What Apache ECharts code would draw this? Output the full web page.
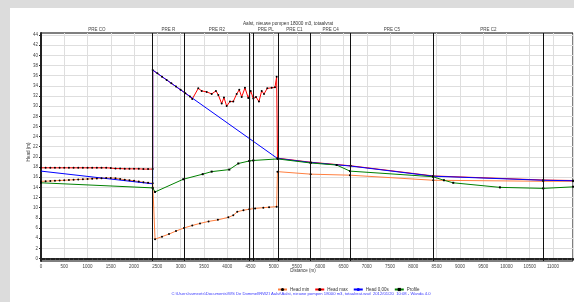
<!DOCTYPE html>
<html>
<head>
<meta charset="utf-8">
<script src="https://cdn.jsdelivr.net/npm/echarts@6/dist/echarts.min.js"></script>
<style>
html, body { margin: 0; padding: 0; background: #dcdcdc; }
#panel { position: absolute; left: 10px; top: 8px; right: 0; bottom: 0; background: #fff; }
#chart { position: absolute; left: 0; top: 0; width: 574px; height: 302px; }
</style>
</head>
<body>
<div id="panel"></div>
<div id="chart"></div>
<script>
// waarden: [afstand (m), head (m)]
var headMin = [
	[0,15.2],[100,15.22],[200,15.25],[300,15.3],[400,15.35],[500,15.4],[600,15.45],[700,15.5],
	[800,15.55],[900,15.6],[1000,15.65],[1100,15.7],[1200,15.75],[1300,15.8],[1400,15.85],[1500,15.85],
	[1600,15.8],[1700,15.65],[1800,15.5],[1900,15.4],[2000,15.3],[2100,15.15],[2200,15.0],[2300,14.9],
	[2400,14.8],[2450,3.8],[2600,4.3],[2750,4.8],[2900,5.4],[3072,6.0],[3250,6.5],[3416,6.9],
	[3600,7.3],[3800,7.6],[4024,8.1],[4131,8.5],[4217,9.2],[4350,9.5],[4475,9.7],[4600,9.85],
	[4776,10.0],[4900,10.1],[5063,10.2],[5080,17.1],[5794,16.6],[6638,16.4],[8428,15.4],[10791,15.2],
	[11430,15.2]
];
var headMax = [
	[0,17.85],[100,17.85],[200,17.85],[300,17.85],[400,17.85],[500,17.85],[600,17.85],[700,17.85],
	[800,17.85],[900,17.85],[1000,17.85],[1100,17.85],[1200,17.85],[1300,17.85],[1400,17.85],[1500,17.8],
	[1600,17.7],[1700,17.7],[1800,17.65],[1900,17.65],[2000,17.65],[2100,17.65],[2200,17.6],[2300,17.6],
	[2400,17.6],[2400,37.1],[2500,36.45],[2600,35.8],[2700,35.15],[2800,34.5],[2900,33.85],[3000,33.2],
	[3100,32.55],[3200,31.9],[3250,31.4],[3379,33.5],[3452,33.0],[3560,32.8],[3667,32.4],[3759,33.0],
	[3809,32.2],[3882,30.5],[3931,31.7],[3989,30.0],[4060,30.9],[4131,30.9],[4204,32.4],[4260,33.2],
	[4312,31.8],[4382,33.6],[4453,31.6],[4505,33.0],[4561,31.5],[4619,31.8],[4683,30.9],[4741,33.0],
	[4791,32.4],[4861,33.5],[4956,33.6],[5027,33.7],[5063,35.8],[5080,19.75],[5794,18.95],[6653,18.25],
	[8428,16.25],[10791,15.45],[11430,15.35]
];
var head0 = [
	[0,17.2],[2400,14.7],[2400,37.1],[5080,19.7],[5794,18.9],[6653,18.2],[8428,16.2],[10791,15.4],[11430,15.3]
];
var profile = [
	[0,14.9],[2400,13.9],[2450,13.1],[3057,15.6],[3474,16.6],[3667,17.1],[4045,17.5],[4239,18.7],
	[4475,19.2],[4561,19.3],[5085,19.6],[5794,18.8],[6352,18.4],[6638,17.2],[8421,16.1],[8657,15.4],
	[8857,14.9],[9860,14.0],[10791,13.8],[11430,14.1]
];
var sectionBounds = [2400, 3078, 4475, 4561, 5098, 5794, 6653, 8428, 10791];
var sectionNames = [
	[0, 2400, 'PRE CO'], [2400, 3078, 'PRE R'], [3078, 4475, 'PRE R2'], [4561, 5098, 'PRE PL'],
	[5098, 5794, 'PRE C1'], [5794, 6653, 'PRE C4'], [6653, 8428, 'PRE C5'], [8428, 10791, 'PRE C2']
];
var yTicks = [0,2,4,6,8,10,12,14,16,18,20,22,24,26,28,30,32,34,36,38,40,42,44];

var myChart = echarts.init(document.getElementById('chart'), null, {renderer: 'canvas'});

var smallText = {fontSize: 4.5, color: '#444', fontFamily: 'Arial, Liberation Sans, sans-serif'};

var option = {
	animation: false,
	grid: {
		left: 41, right: 1, top: 33, bottom: 41,
		show: true, borderColor: '#000', borderWidth: 1
	},
	legend: {
		left: 272, top: 282,
		itemWidth: 9, itemHeight: 4, itemGap: 5,
		textStyle: {fontSize: 4.5, color: '#333', padding: [0, 0, 0, -2]},
		data: ['Head min', 'Head max', 'Head 0,00s', 'Profile']
	},
	xAxis: {
		type: 'value', min: 0, max: 11430, interval: 500,
		axisLine: {lineStyle: {color: '#222', width: 2}},
		axisTick: {length: 2, lineStyle: {color: '#222'}},
		minorTick: {show: true, splitNumber: 5, length: 1.5, lineStyle: {color: '#444'}},
		axisLabel: Object.assign({margin: 3, showMaxLabel: false, formatter: function (v) { return String(v); }}, smallText),
		splitLine: {lineStyle: {color: '#dedede', width: 1}}
	},
	yAxis: {
		type: 'value', min: -0.5, max: 44.4,
		axisLine: {show: true, lineStyle: {color: '#222', width: 2}},
		axisTick: {show: true, length: 2, customValues: yTicks, lineStyle: {color: '#222'}},
		axisLabel: Object.assign({margin: 3, customValues: yTicks}, smallText),
		splitLine: {lineStyle: {color: '#dedede', width: 1}}
	},
	graphic: [
		{type: 'text', x: 288, y: 24, style: {text: 'Aalst, nieuwe pompen 18000 m3, totaalvrat', fontSize: 4.7, fill: '#333', align: 'center', verticalAlign: 'middle'}},
		{type: 'text', x: 303, y: 271, style: {text: 'Distance (m)', fontSize: 4.5, fill: '#333', align: 'center', verticalAlign: 'middle'}},
		{type: 'text', x: 29, y: 152, rotation: Math.PI / 2, style: {text: 'Head (m)', fontSize: 4.5, fill: '#333', align: 'center', verticalAlign: 'middle'}},
		{type: 'text', x: 301, y: 294, style: {text: 'C:\\Users\\ssmeets\\Documents\\WS De Dommel\\RWZI Aalst\\Aalst, nieuwe pompen 18000 m3, totaalvrat.wsd  2012/01/20  10:08 - Wanda 4.0', fontSize: 4.2, fill: '#3a3aff', align: 'center', verticalAlign: 'middle'}}
	],
	series: [
		{
			name: 'sections', type: 'line', data: [], silent: true,
			markLine: {
				symbol: 'none', silent: true, label: {show: false},
				lineStyle: {color: '#111', width: 1, type: 'solid'},
				data: sectionBounds.map(function (x) { return {xAxis: x}; })
			},
			markArea: {
				silent: true,
				itemStyle: {color: 'rgba(0,0,0,0)'},
				label: {show: true, position: 'top', distance: 1, fontSize: 4.5, color: '#444'},
				data: sectionNames.map(function (s) { return [{xAxis: s[0], name: s[2]}, {xAxis: s[1]}]; })
			}
		},
		{
			name: 'Head min', type: 'line', data: headMin,
			symbol: 'circle', symbolSize: 2, showSymbol: true,
			itemStyle: {color: '#000'},
			lineStyle: {color: '#ff7f3f', width: 1}
		},
		{
			name: 'Head max', type: 'line', data: headMax,
			symbol: 'circle', symbolSize: 2, showSymbol: true,
			itemStyle: {color: '#000'},
			lineStyle: {color: '#ff0000', width: 1}
		},
		{
			name: 'Head 0,00s', type: 'line', data: head0,
			showSymbol: false, symbol: 'none',
			itemStyle: {color: '#0000ff'},
			lineStyle: {color: '#0000ff', width: 1}
		},
		{
			name: 'Profile', type: 'line', data: profile,
			symbol: 'rect', symbolSize: 2, showSymbol: true,
			itemStyle: {color: '#000'},
			lineStyle: {color: '#008000', width: 1}
		}
	]
};
myChart.setOption(option);
</script>
</body>
</html>
